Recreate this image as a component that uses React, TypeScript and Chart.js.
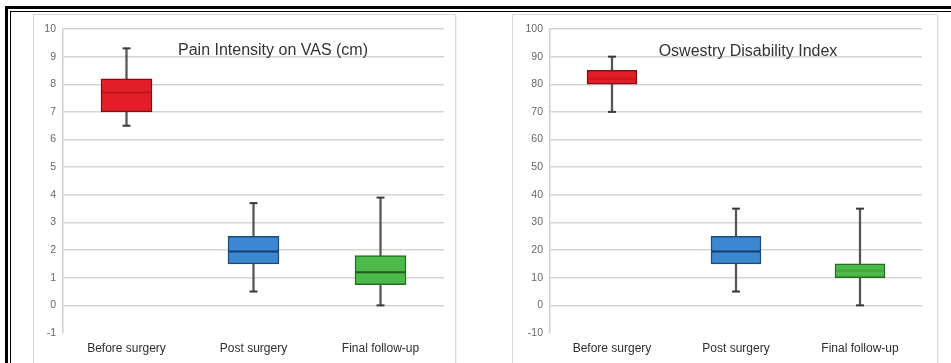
import React, { useEffect, useRef } from 'react';
import { Chart, registerables } from 'chart.js';

Chart.register(...registerables);

// ---------- data ----------
const categories = ['Before surgery', 'Post surgery', 'Final follow-up'];

const vasMin = [6.5, 0.5, 0];
const vasQ1 = [7.0, 1.5, 0.75];
const vasMedian = [7.7, 1.95, 1.2];
const vasQ3 = [8.2, 2.5, 1.8];
const vasMax = [9.3, 3.7, 3.9];

const odiMin = [70, 5, 0];
const odiQ1 = [80, 15, 10];
const odiMedian = [82, 19.5, 12.5];
const odiQ3 = [85, 25, 15];
const odiMax = [90, 35, 35];

const vasTitle = 'Pain Intensity on VAS (cm)';
const odiTitle = 'Oswestry Disability Index';

// ---------- styles ----------
const boxFill = ['#e31e26', '#3b87d2', '#4cba48'];
const boxEdge = ['#7e1015', '#1d4b7c', '#2a6a27'];
const medianColour = ['#c0141c', '#183e66', '#235a21'];
const medianColourOdi = ['#cc171f', '#183e66', '#43a640'];
const FONT = '"Liberation Sans", Arial, sans-serif';

type BoxProps = {
  min: number[];
  q1: number[];
  median: number[];
  q3: number[];
  max: number[];
  medColours: string[];
  yMin: number;
  yMax: number;
  step: number;
  yAxisWidth: number;
  padRight: number;
  padTop: number;
  xAxisHeight: number;
  boxWidth: number;
};

function BoxChart(p: BoxProps) {
  const ref = useRef<HTMLCanvasElement>(null);
  useEffect(() => {
    if (!ref.current) return;
    const pairs = (a: number[], b: number[]) => a.map((v, i) => [v, b[i]]);
    const chart = new Chart(ref.current, {
      type: 'bar',
      data: {
        labels: categories,
        datasets: [
          {
            type: 'bar',
            data: pairs(p.min, p.max) as any,
            backgroundColor: '#555555',
            barThickness: 1.6,
            grouped: false,
            order: 4,
          } as any,
          {
            type: 'bar',
            data: pairs(p.q1, p.q3) as any,
            backgroundColor: boxFill,
            borderColor: boxEdge,
            borderWidth: 1.5,
            borderSkipped: false,
            barThickness: p.boxWidth,
            grouped: false,
            order: 3,
          } as any,
          {
            type: 'line',
            data: p.median,
            showLine: false,
            pointStyle: 'line',
            pointRadius: p.boxWidth / 2 - 1,
            pointBorderWidth: 2,
            pointBorderColor: p.medColours,
            pointBackgroundColor: p.medColours,
            order: 1,
          } as any,
          {
            type: 'line',
            data: p.max,
            showLine: false,
            pointStyle: 'line',
            pointRadius: 4,
            pointBorderWidth: 2,
            pointBorderColor: '#3a3a3a',
            order: 1,
          } as any,
          {
            type: 'line',
            data: p.min,
            showLine: false,
            pointStyle: 'line',
            pointRadius: 4,
            pointBorderWidth: 2,
            pointBorderColor: '#3a3a3a',
            order: 1,
          } as any,
        ],
      },
      options: {
        animation: false,
        responsive: true,
        maintainAspectRatio: false,
        events: [],
        layout: {
          autoPadding: false,
          padding: { top: p.padTop, right: p.padRight, left: 0, bottom: 0 },
        },
        plugins: {
          legend: { display: false },
          tooltip: { enabled: false },
          title: { display: false },
        },
        scales: {
          x: {
            offset: true,
            grid: { display: false, drawTicks: false },
            border: { display: false },
            ticks: {
              padding: 8,
              color: '#2e2e2e',
              font: { family: FONT, size: 12 },
              maxRotation: 0,
              autoSkip: false,
            },
            afterFit: (s: any) => {
              s.height = p.xAxisHeight;
            },
          },
          y: {
            min: p.yMin,
            max: p.yMax,
            ticks: {
              stepSize: p.step,
              padding: 7,
              color: '#666666',
              font: { family: FONT, size: 10.5 },
            },
            grid: {
              drawTicks: false,
              lineWidth: 1.5,
              color: (ctx: any) =>
                ctx.tick && ctx.tick.value === p.yMin ? 'rgba(0,0,0,0)' : '#d4d4d4',
            },
            border: { display: true, color: '#cfcfcf', width: 1.5 },
            afterFit: (s: any) => {
              s.width = p.yAxisWidth;
            },
          },
        },
      } as any,
    });
    return () => chart.destroy();
  }, []);
  return <canvas ref={ref} />;
}

export default function App() {
  const panel: React.CSSProperties = {
    position: 'absolute',
    border: '1px solid #d8d8d8',
    background: '#ffffff',
    boxShadow: '1px 1px 1px rgba(0,0,0,0.06)',
  };
  const titleStyle: React.CSSProperties = {
    position: 'absolute',
    transform: 'translate(-50%, -50%)',
    whiteSpace: 'nowrap',
    fontFamily: FONT,
    fontSize: 16,
    color: '#333333',
    lineHeight: '18px',
  };
  return (
    <div
      style={{
        position: 'absolute',
        left: 0,
        top: 0,
        width: 951,
        height: 363,
        overflow: 'hidden',
        background: '#ffffff',
      }}
    >
      {/* outer frame */}
      <div style={{ position: 'absolute', left: 5, top: 6, width: 946, height: 3, background: '#000' }} />
      <div style={{ position: 'absolute', left: 5, top: 6, width: 3, height: 357, background: '#000' }} />
      <div style={{ position: 'absolute', left: 10, top: 11, width: 941, height: 1, background: '#000' }} />
      <div style={{ position: 'absolute', left: 10, top: 11, width: 1, height: 352, background: '#000' }} />

      {/* panels */}
      <div style={{ ...panel, left: 33, top: 14, width: 421, height: 360 }} />
      <div style={{ ...panel, left: 512, top: 14, width: 424, height: 360 }} />

      {/* VAS chart */}
      <div style={{ position: 'absolute', left: 34, top: 15, width: 421, height: 348 }}>
        <BoxChart
          min={vasMin}
          q1={vasQ1}
          median={vasMedian}
          q3={vasQ3}
          max={vasMax}
          medColours={medianColour}
          yMin={-1}
          yMax={10}
          step={1}
          yAxisWidth={29}
          padRight={11}
          padTop={14}
          xAxisHeight={30}
          boxWidth={51}
        />
      </div>
      <div style={{ ...titleStyle, left: 273, top: 50 }}>{vasTitle}</div>

      {/* ODI chart */}
      <div style={{ position: 'absolute', left: 513, top: 15, width: 424, height: 348 }}>
        <BoxChart
          min={odiMin}
          q1={odiQ1}
          median={odiMedian}
          q3={odiQ3}
          max={odiMax}
          medColours={medianColourOdi}
          yMin={-10}
          yMax={100}
          step={10}
          yAxisWidth={37}
          padRight={15}
          padTop={14}
          xAxisHeight={30}
          boxWidth={50}
        />
      </div>
      <div style={{ ...titleStyle, left: 748, top: 51 }}>{odiTitle}</div>
    </div>
  );
}
